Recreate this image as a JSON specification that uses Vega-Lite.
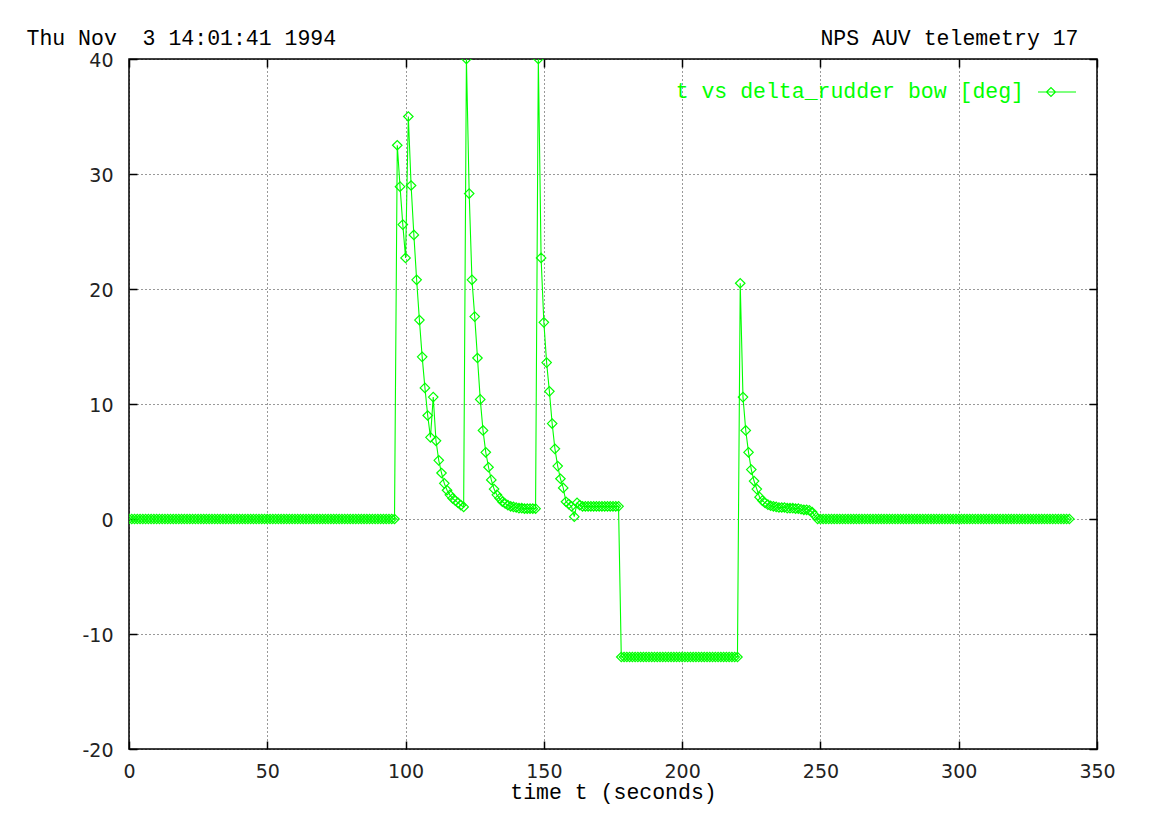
{
  "$schema": "https://vega.github.io/schema/vega-lite/v6.json",
  "autosize": {"type": "none"},
  "padding": {"left": 129, "top": 59, "right": 54, "bottom": 74},
  "width": 968,
  "height": 690,
  "background": "white",
  "datasets": {
    "telemetry": [
      {"t":0,"v":0},{"t":1,"v":0},{"t":2,"v":0},{"t":3,"v":0},{"t":4,"v":0},{"t":5,"v":0},{"t":6,"v":0},{"t":7,"v":0},{"t":8,"v":0},{"t":9,"v":0},
      {"t":10,"v":0},{"t":11,"v":0},{"t":12,"v":0},{"t":13,"v":0},{"t":14,"v":0},{"t":15,"v":0},{"t":16,"v":0},{"t":17,"v":0},{"t":18,"v":0},{"t":19,"v":0},
      {"t":20,"v":0},{"t":21,"v":0},{"t":22,"v":0},{"t":23,"v":0},{"t":24,"v":0},{"t":25,"v":0},{"t":26,"v":0},{"t":27,"v":0},{"t":28,"v":0},{"t":29,"v":0},
      {"t":30,"v":0},{"t":31,"v":0},{"t":32,"v":0},{"t":33,"v":0},{"t":34,"v":0},{"t":35,"v":0},{"t":36,"v":0},{"t":37,"v":0},{"t":38,"v":0},{"t":39,"v":0},
      {"t":40,"v":0},{"t":41,"v":0},{"t":42,"v":0},{"t":43,"v":0},{"t":44,"v":0},{"t":45,"v":0},{"t":46,"v":0},{"t":47,"v":0},{"t":48,"v":0},{"t":49,"v":0},
      {"t":50,"v":0},{"t":51,"v":0},{"t":52,"v":0},{"t":53,"v":0},{"t":54,"v":0},{"t":55,"v":0},{"t":56,"v":0},{"t":57,"v":0},{"t":58,"v":0},{"t":59,"v":0},
      {"t":60,"v":0},{"t":61,"v":0},{"t":62,"v":0},{"t":63,"v":0},{"t":64,"v":0},{"t":65,"v":0},{"t":66,"v":0},{"t":67,"v":0},{"t":68,"v":0},{"t":69,"v":0},
      {"t":70,"v":0},{"t":71,"v":0},{"t":72,"v":0},{"t":73,"v":0},{"t":74,"v":0},{"t":75,"v":0},{"t":76,"v":0},{"t":77,"v":0},{"t":78,"v":0},{"t":79,"v":0},
      {"t":80,"v":0},{"t":81,"v":0},{"t":82,"v":0},{"t":83,"v":0},{"t":84,"v":0},{"t":85,"v":0},{"t":86,"v":0},{"t":87,"v":0},{"t":88,"v":0},{"t":89,"v":0},
      {"t":90,"v":0},{"t":91,"v":0},{"t":92,"v":0},{"t":93,"v":0},{"t":94,"v":0},{"t":95,"v":0},{"t":96,"v":0},
      {"t":97,"v":32.5},{"t":98,"v":28.9},{"t":99,"v":25.6},{"t":100,"v":22.7},{"t":101,"v":35.0},{"t":102,"v":29.0},{"t":103,"v":24.7},{"t":104,"v":20.8},
      {"t":105,"v":17.3},{"t":106,"v":14.1},{"t":107,"v":11.4},{"t":108,"v":9.0},{"t":109,"v":7.1},{"t":110,"v":10.6},{"t":111,"v":6.8},{"t":112,"v":5.1},
      {"t":113,"v":4.0},{"t":114,"v":3.1},{"t":115,"v":2.5},{"t":116,"v":2.1},{"t":117,"v":1.8},{"t":118,"v":1.6},{"t":119,"v":1.4},{"t":120,"v":1.2},
      {"t":121,"v":1.05},{"t":122,"v":40},{"t":123,"v":28.3},{"t":124,"v":20.8},{"t":125,"v":17.6},{"t":126,"v":14.0},{"t":127,"v":10.4},{"t":128,"v":7.7},
      {"t":129,"v":5.8},{"t":130,"v":4.5},{"t":131,"v":3.4},{"t":132,"v":2.6},{"t":133,"v":2.1},{"t":134,"v":1.8},{"t":135,"v":1.5},{"t":136,"v":1.35},
      {"t":137,"v":1.2},{"t":138,"v":1.1},{"t":139,"v":1.05},{"t":140,"v":1.0},{"t":141,"v":0.95},{"t":142,"v":0.95},{"t":143,"v":0.9},{"t":144,"v":0.9},
      {"t":145,"v":0.9},{"t":146,"v":0.9},{"t":147,"v":0.9},{"t":148,"v":40},{"t":149,"v":22.7},{"t":150,"v":17.1},{"t":151,"v":13.6},{"t":152,"v":11.1},
      {"t":153,"v":8.3},{"t":154,"v":6.1},{"t":155,"v":4.6},{"t":156,"v":3.5},{"t":157,"v":2.7},{"t":158,"v":1.5},{"t":159,"v":1.3},{"t":160,"v":1.1},
      {"t":161,"v":0.2},{"t":162,"v":1.4},{"t":163,"v":1.2},{"t":164,"v":1.1},{"t":165,"v":1.1},{"t":166,"v":1.1},{"t":167,"v":1.1},{"t":168,"v":1.1},
      {"t":169,"v":1.1},{"t":170,"v":1.1},{"t":171,"v":1.1},{"t":172,"v":1.1},{"t":173,"v":1.1},{"t":174,"v":1.1},{"t":175,"v":1.1},{"t":176,"v":1.1},
      {"t":177,"v":1.1},
      {"t":178,"v":-12},{"t":179,"v":-12},{"t":180,"v":-12},{"t":181,"v":-12},{"t":182,"v":-12},{"t":183,"v":-12},{"t":184,"v":-12},{"t":185,"v":-12},
      {"t":186,"v":-12},{"t":187,"v":-12},{"t":188,"v":-12},{"t":189,"v":-12},{"t":190,"v":-12},{"t":191,"v":-12},{"t":192,"v":-12},{"t":193,"v":-12},
      {"t":194,"v":-12},{"t":195,"v":-12},{"t":196,"v":-12},{"t":197,"v":-12},{"t":198,"v":-12},{"t":199,"v":-12},{"t":200,"v":-12},{"t":201,"v":-12},
      {"t":202,"v":-12},{"t":203,"v":-12},{"t":204,"v":-12},{"t":205,"v":-12},{"t":206,"v":-12},{"t":207,"v":-12},{"t":208,"v":-12},{"t":209,"v":-12},
      {"t":210,"v":-12},{"t":211,"v":-12},{"t":212,"v":-12},{"t":213,"v":-12},{"t":214,"v":-12},{"t":215,"v":-12},{"t":216,"v":-12},{"t":217,"v":-12},
      {"t":218,"v":-12},{"t":219,"v":-12},{"t":220,"v":-12},
      {"t":221,"v":20.5},{"t":222,"v":10.6},{"t":223,"v":7.7},{"t":224,"v":5.8},{"t":225,"v":4.3},{"t":226,"v":3.3},{"t":227,"v":2.6},{"t":228,"v":1.9},
      {"t":229,"v":1.6},{"t":230,"v":1.4},{"t":231,"v":1.25},{"t":232,"v":1.15},{"t":233,"v":1.1},{"t":234,"v":1.05},{"t":235,"v":1.0},{"t":236,"v":1.0},
      {"t":237,"v":1.0},{"t":238,"v":0.95},{"t":239,"v":0.95},{"t":240,"v":0.95},{"t":241,"v":0.9},{"t":242,"v":0.9},{"t":243,"v":0.85},{"t":244,"v":0.8},
      {"t":245,"v":0.8},{"t":246,"v":0.75},{"t":247,"v":0.6},{"t":248,"v":0.3},
      {"t":249,"v":0},{"t":250,"v":0},{"t":251,"v":0},{"t":252,"v":0},{"t":253,"v":0},{"t":254,"v":0},{"t":255,"v":0},{"t":256,"v":0},{"t":257,"v":0},{"t":258,"v":0},{"t":259,"v":0},
      {"t":260,"v":0},{"t":261,"v":0},{"t":262,"v":0},{"t":263,"v":0},{"t":264,"v":0},{"t":265,"v":0},{"t":266,"v":0},{"t":267,"v":0},{"t":268,"v":0},{"t":269,"v":0},
      {"t":270,"v":0},{"t":271,"v":0},{"t":272,"v":0},{"t":273,"v":0},{"t":274,"v":0},{"t":275,"v":0},{"t":276,"v":0},{"t":277,"v":0},{"t":278,"v":0},{"t":279,"v":0},
      {"t":280,"v":0},{"t":281,"v":0},{"t":282,"v":0},{"t":283,"v":0},{"t":284,"v":0},{"t":285,"v":0},{"t":286,"v":0},{"t":287,"v":0},{"t":288,"v":0},{"t":289,"v":0},
      {"t":290,"v":0},{"t":291,"v":0},{"t":292,"v":0},{"t":293,"v":0},{"t":294,"v":0},{"t":295,"v":0},{"t":296,"v":0},{"t":297,"v":0},{"t":298,"v":0},{"t":299,"v":0},
      {"t":300,"v":0},{"t":301,"v":0},{"t":302,"v":0},{"t":303,"v":0},{"t":304,"v":0},{"t":305,"v":0},{"t":306,"v":0},{"t":307,"v":0},{"t":308,"v":0},{"t":309,"v":0},
      {"t":310,"v":0},{"t":311,"v":0},{"t":312,"v":0},{"t":313,"v":0},{"t":314,"v":0},{"t":315,"v":0},{"t":316,"v":0},{"t":317,"v":0},{"t":318,"v":0},{"t":319,"v":0},
      {"t":320,"v":0},{"t":321,"v":0},{"t":322,"v":0},{"t":323,"v":0},{"t":324,"v":0},{"t":325,"v":0},{"t":326,"v":0},{"t":327,"v":0},{"t":328,"v":0},{"t":329,"v":0},
      {"t":330,"v":0},{"t":331,"v":0},{"t":332,"v":0},{"t":333,"v":0},{"t":334,"v":0},{"t":335,"v":0},{"t":336,"v":0},{"t":337,"v":0},{"t":338,"v":0},{"t":339,"v":0},
      {"t":340,"v":0}
    ]
  },
  "data": {"name": "telemetry"},
  "transform": [{"calculate": "'t vs delta_rudder bow [deg]'", "as": "series"}],
  "encoding": {
    "x": {"field": "t", "type": "quantitative", "scale": {"domain": [0, 350], "nice": false, "zero": false}},
    "y": {"field": "v", "type": "quantitative", "scale": {"domain": [-20, 40], "nice": false, "zero": false}},
    "color": {
      "field": "series",
      "type": "nominal",
      "scale": {"range": ["#00ff00"]},
      "legend": {
        "title": null,
        "orient": "none",
        "legendX": 908,
        "legendY": 13,
        "padding": 0,
        "symbolType": "M-1,0H1M-0.553,0L-0.316,-0.237L-0.079,0L-0.316,0.237Z",
        "symbolSize": 1444,
        "symbolStrokeWidth": 1.2,
        "symbolStrokeColor": "#00ff00",
        "symbolFillColor": "transparent",
        "labelAlign": "right",
        "labelBaseline": "middle",
        "labelOffset": -53,
        "labelFont": "Liberation Mono",
        "labelFontSize": 21.5,
        "labelColor": "#00ff00",
        "labelLimit": 0
      }
    }
  },
  "layer": [
    {
      "mark": {"type": "line", "strokeWidth": 1.1, "clip": true},
      "encoding": {
        "x": {
          "field": "t", "type": "quantitative",
          "axis": {
            "orient": "bottom",
            "values": [0, 50, 100, 150, 200, 250, 300, 350],
            "title": "time t (seconds)",
            "titleFont": "Liberation Mono",
            "titleFontSize": 21.5,
            "titleFontWeight": "normal",
            "titleColor": "black",
            "titleBaseline": "alphabetic",
            "titleY": 49,
            "labelFont": "DejaVu Sans",
            "labelFontSize": 19,
            "labelColor": "#222222",
            "labelPadding": 21,
            "labelFlush": false,
            "labelOverlap": false,
            "ticks": true,
            "tickSize": -8,
            "tickColor": "black",
            "tickWidth": 1.5,
            "domain": false,
            "grid": true,
            "gridColor": "#000000",
            "gridDash": [1, 3],
            "gridWidth": 1,
            "gridOpacity": 0.8
          }
        },
        "y": {
          "field": "v", "type": "quantitative",
          "axis": {
            "orient": "left",
            "values": [-20, -10, 0, 10, 20, 30, 40],
            "title": null,
            "labelFont": "DejaVu Sans",
            "labelFontSize": 19,
            "labelColor": "#222222",
            "labelPadding": 24,
            "labelBaseline": "middle",
            "labelOffset": 1.5,
            "labelFlush": false,
            "labelOverlap": false,
            "ticks": true,
            "tickSize": -8,
            "tickColor": "black",
            "tickWidth": 1.5,
            "domain": false,
            "grid": true,
            "gridColor": "#000000",
            "gridDash": [1, 3],
            "gridWidth": 1,
            "gridOpacity": 0.8
          }
        }
      }
    },
    {
      "mark": {"type": "point", "shape": "diamond", "filled": false, "size": 90, "strokeWidth": 1.2, "opacity": 1, "clip": true},
      "encoding": {
        "x": {
          "field": "t", "type": "quantitative",
          "axis": {
            "orient": "top",
            "values": [0, 50, 100, 150, 200, 250, 300, 350],
            "labels": false,
            "grid": false,
            "domain": false,
            "ticks": true,
            "tickSize": -8,
            "tickColor": "black",
            "tickWidth": 1.5,
            "title": "Thu Nov \u00a03 14:01:41 1994",
            "titleFont": "Liberation Mono",
            "titleFontSize": 21.5,
            "titleFontWeight": "normal",
            "titleColor": "black",
            "titleAlign": "left",
            "titleBaseline": "alphabetic",
            "titleAnchor": null,
            "titleX": -103,
            "titleY": -14.5
          }
        },
        "y": {
          "field": "v", "type": "quantitative",
          "axis": {
            "orient": "right",
            "values": [-20, -10, 0, 10, 20, 30, 40],
            "labels": false,
            "grid": false,
            "domain": false,
            "ticks": true,
            "tickSize": -8,
            "tickColor": "black",
            "tickWidth": 1.5,
            "title": "NPS AUV telemetry 17",
            "titleFont": "Liberation Mono",
            "titleFontSize": 21.5,
            "titleFontWeight": "normal",
            "titleColor": "black",
            "titleAngle": 0,
            "titleAlign": "right",
            "titleBaseline": "alphabetic",
            "titleAnchor": null,
            "titleX": -19,
            "titleY": -14.5
          }
        }
      }
    }
  ],
  "resolve": {"axis": {"x": "independent", "y": "independent"}},
  "config": {
    "locale": {"number": {"decimal": ".", "thousands": ",", "grouping": [3], "currency": ["$", ""], "minus": "-"}},
    "view": {"stroke": "black", "strokeWidth": 1.5}
  }
}
